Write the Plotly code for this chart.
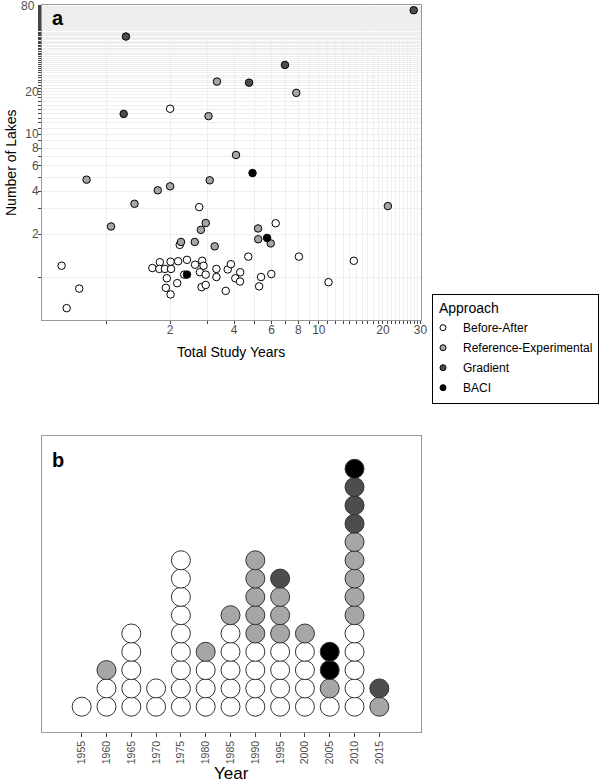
import plotly.graph_objects as go
import numpy as np

# ---------------- Panel a data ----------------
ba_x = [2.0, 2.74, 6.27, 4.66, 0.618, 0.748, 0.653, 1.65, 1.79, 1.78, 1.89, 2.01, 2.02, 1.93, 1.91,
        2.01, 2.16, 2.18, 2.40, 2.33, 2.62, 2.83, 2.87, 2.76, 2.94, 2.81, 2.94, 3.30, 3.30, 3.65,
        3.73, 3.86, 4.05, 4.26, 4.27, 5.24, 5.35, 5.98, 8.06, 14.6, 11.1, 2.22]
ba_y = [15.1, 3.09, 2.38, 1.39, 1.20, 0.83, 0.605, 1.156, 1.27, 1.14, 1.14, 1.28, 1.14, 0.98, 0.84,
        0.755, 0.906, 1.29, 1.32, 1.04, 1.22, 1.30, 1.20, 1.08, 1.04, 0.85, 0.88, 1.14, 1.00, 0.80,
        1.13, 1.23, 0.98, 0.93, 1.08, 0.86, 1.00, 1.05, 1.39, 1.30, 0.92, 1.68]
ref_x = [3.32, 3.03, 4.08, 3.07, 0.81, 2.00, 1.75, 1.36, 1.055, 2.94, 2.79, 2.25, 2.61, 3.24,
         5.18, 5.19, 5.94, 7.83, 21.1]
ref_y = [23.4, 13.4, 7.16, 4.76, 4.81, 4.32, 4.05, 3.26, 2.26, 2.39, 2.14, 1.76, 1.76, 1.64,
         2.19, 1.84, 1.72, 19.5, 3.14]
grad_x = [1.24, 1.21, 4.70, 6.93, 27.9]
grad_y = [48.4, 13.9, 23.0, 30.6, 74.0]
baci_x = [4.88, 5.71, 2.40]
baci_y = [5.35, 1.88, 1.04]

# ---------------- Panel b data ----------------
years = [1955, 1960, 1965, 1970, 1975, 1980, 1985, 1990, 1995, 2000, 2005, 2010, 2015]
ba_counts = [1, 2, 5, 2, 9, 3, 5, 4, 4, 4, 1, 5, 0]
ref_counts = [0, 1, 0, 0, 0, 1, 1, 5, 3, 1, 1, 5, 1]
grad_counts = [0, 0, 0, 0, 0, 0, 0, 0, 1, 0, 0, 3, 1]
baci_counts = [0, 0, 0, 0, 0, 0, 0, 0, 0, 0, 2, 1, 0]

x_ticks_a = list(range(1, 31))
x_labels_a = {2: "2", 4: "4", 6: "6", 8: "8", 10: "10", 20: "20", 30: "30"}
y_ticks_a = list(range(1, 81))
y_labels_a = {2: "2", 4: "4", 6: "6", 8: "8", 10: "10", 20: "20"}
y_top_label = "80"

names = ["Before-After", "Reference-Experimental", "Gradient", "BACI"]
colors = ["#ffffff", "#a6a6a6", "#4d4d4d", "#000000"]

FONT = "Liberation Sans, Arial, sans-serif"
W, H = 600, 784


def px(x):
    return x / W


def py(y):
    return 1 - y / H


fig = go.Figure()

# panel a
for nm, col, xs, ys in zip(names, colors, [ba_x, ref_x, grad_x, baci_x], [ba_y, ref_y, grad_y, baci_y]):
    fig.add_trace(go.Scatter(x=xs, y=ys, mode="markers", name=nm, legendgroup=nm,
                             marker=dict(size=7.5, color=col, line=dict(color="#000000", width=1)),
                             xaxis="x", yaxis="y", showlegend=False))
    # legend entry
    fig.add_trace(go.Scatter(x=[None], y=[None], mode="markers", name=nm, legendgroup=nm,
                             marker=dict(size=6, color=col, line=dict(color="#000000", width=1)),
                             xaxis="x", yaxis="y", showlegend=True))

# panel b (stacked dot plot)
stack = [0] * len(years)
for nm, col, counts in zip(names, colors, [ba_counts, ref_counts, grad_counts, baci_counts]):
    xs, ys = [], []
    for i, (yr, c) in enumerate(zip(years, counts)):
        for k in range(c):
            stack[i] += 1
            xs.append(yr)
            ys.append(stack[i])
    fig.add_trace(go.Scatter(x=xs, y=ys, mode="markers", name=nm, legendgroup=nm,
                             marker=dict(size=19, color=col, line=dict(color="#333333", width=1)),
                             xaxis="x2", yaxis="y2", showlegend=False))

fig.update_layout(
    width=W, height=H,
    margin=dict(l=0, r=0, t=0, b=0),
    paper_bgcolor="white", plot_bgcolor="white",
    font=dict(family=FONT, color="#000000"),
    xaxis=dict(type="log", domain=[px(42), px(421)], anchor="y",
               range=[np.log10(0.5), np.log10(30.2)],
               tickvals=x_ticks_a, ticktext=[x_labels_a.get(v, "") for v in x_ticks_a],
               showgrid=True, gridcolor="#eeeeee", gridwidth=1,
               ticks="outside", ticklen=3, tickcolor="#444444",
               tickfont=dict(size=12, color="#4d4d4d"), ticklabelstandoff=-4,
               showline=True, linecolor="#999999", linewidth=1, mirror=True,
               zeroline=False, automargin=False),
    yaxis=dict(type="log", domain=[py(320), py(5)], anchor="x",
               range=[np.log10(0.5), np.log10(80.5)],
               tickvals=y_ticks_a, ticktext=[y_labels_a.get(v, "") for v in y_ticks_a],
               showgrid=True, gridcolor="#eeeeee", gridwidth=1,
               ticks="outside", ticklen=3, tickcolor="#444444",
               tickfont=dict(size=12, color="#4d4d4d"), ticklabelstandoff=-3,
               showline=True, linecolor="#999999", linewidth=1, mirror=True,
               zeroline=False, automargin=False),
    xaxis2=dict(domain=[px(42), px(421)], anchor="y2",
                range=[1947, 2023.4],
                tickvals=years, ticktext=[str(y) for y in years], tickangle=-90,
                showgrid=False, zeroline=False,
                ticks="outside", ticklen=4, tickcolor="#444444",
                tickfont=dict(size=10.5, color="#4d4d4d"),
                showline=True, linecolor="#999999", linewidth=1, mirror=True,
                automargin=False),
    yaxis2=dict(domain=[py(731.7), py(436)], anchor="x2",
                range=[-0.366, 15.79],
                showticklabels=False, showgrid=False, zeroline=False, ticks="",
                showline=True, linecolor="#999999", linewidth=1, mirror=True,
                automargin=False),
    legend=dict(x=px(432), y=py(294), xanchor="left", yanchor="top",
                bordercolor="#000000", borderwidth=1, bgcolor="white",
                font=dict(size=12, color="#000000"),
                title=dict(text="&nbsp;Approach", font=dict(size=14, color="#000000")),
                tracegroupgap=1, itemsizing="trace", itemwidth=30, indentation=-10),
    annotations=[
        dict(text="<b>a</b>", x=px(50), y=py(18), xref="paper", yref="paper",
             xanchor="left", yanchor="middle", showarrow=False, font=dict(size=20, color="#000000")),
        dict(text="<b>b</b>", x=px(50), y=py(460), xref="paper", yref="paper",
             xanchor="left", yanchor="middle", showarrow=False, font=dict(size=20, color="#000000")),
        dict(text=y_top_label, x=px(37), y=py(6), xref="paper", yref="paper",
             xanchor="right", yanchor="middle", showarrow=False, font=dict(size=12, color="#4d4d4d")),
        dict(text="Total Study Years", x=px(231), y=py(352), xref="paper", yref="paper",
             xanchor="center", yanchor="middle", showarrow=False, font=dict(size=14, color="#000000")),
        dict(text="Number of Lakes", x=px(11), y=py(163), xref="paper", yref="paper", textangle=-90,
             xanchor="center", yanchor="middle", showarrow=False, font=dict(size=14, color="#000000")),
        dict(text="Year", x=px(231), y=py(773), xref="paper", yref="paper",
             xanchor="center", yanchor="middle", showarrow=False, font=dict(size=17, color="#000000")),
    ],
)

fig.write_html("out.html", config={"displayModeBar": False},
               post_script="document.body.style.margin='0px';")
